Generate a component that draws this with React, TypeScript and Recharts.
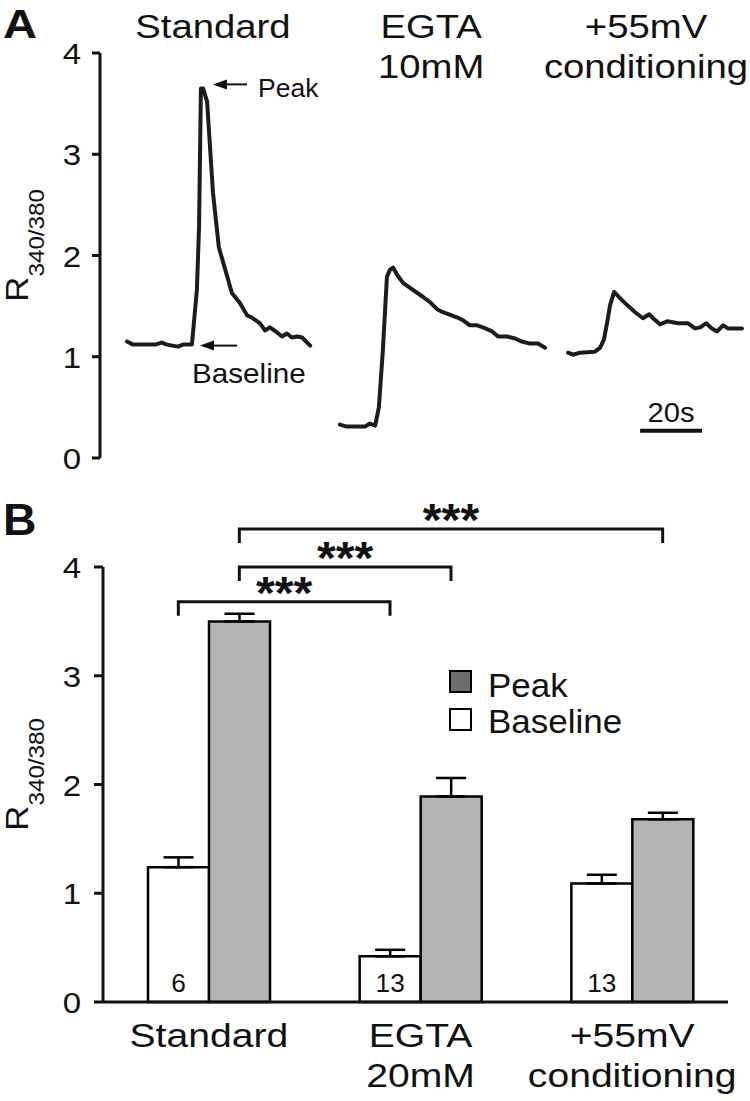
import React from 'react';
import {
  LineChart, Line, XAxis, YAxis, ReferenceLine, ReferenceDot,
  BarChart, Bar, ErrorBar, LabelList, Legend,
} from 'recharts';

const FONT = '"Liberation Sans", Arial, Helvetica, sans-serif';
const INK = '#111';

// ---------- Panel A: example traces (time in s, R340/380) ----------
const standardTime = [8.7, 10.7, 17.8, 20.0, 21.6, 25.2, 26.8, 29.7, 31.3, 32.0, 32.6, 33.3, 34.6, 36.5, 38.4, 41.4, 42.6, 45.2, 47.5, 49.4, 51.7, 53.3, 54.9, 57.2, 58.8, 60.4, 62.0, 63.7, 65.3, 67.9];
const standardRatio = [1.15, 1.12, 1.12, 1.14, 1.12, 1.10, 1.12, 1.12, 1.66, 2.28, 3.65, 3.65, 3.52, 2.62, 2.08, 1.76, 1.63, 1.53, 1.41, 1.38, 1.33, 1.26, 1.29, 1.24, 1.20, 1.23, 1.19, 1.20, 1.19, 1.11];

const egtaTime = [77.5, 79.8, 85.6, 87.2, 88.9, 90.1, 91.4, 92.7, 93.7, 94.7, 96.0, 97.9, 101.1, 104.4, 106.6, 108.9, 110.8, 115.3, 117.3, 119.5, 121.8, 123.7, 126.7, 128.6, 131.5, 134.1, 136.3, 138.9, 141.5, 143.8];
const egtaRatio = [0.33, 0.31, 0.31, 0.34, 0.32, 0.50, 1.07, 1.79, 1.86, 1.88, 1.81, 1.73, 1.66, 1.59, 1.54, 1.47, 1.44, 1.39, 1.36, 1.31, 1.31, 1.29, 1.25, 1.20, 1.20, 1.18, 1.15, 1.13, 1.13, 1.09];

const condTime = [151.2, 152.8, 155.1, 159.9, 161.6, 162.8, 163.8, 164.8, 166.1, 168.0, 170.3, 172.9, 175.4, 177.4, 178.7, 180.9, 183.2, 186.8, 190.0, 192.2, 193.9, 195.8, 197.7, 199.4, 201.3, 202.9, 207.4];
const condRatio = [1.04, 1.02, 1.04, 1.05, 1.09, 1.17, 1.33, 1.51, 1.64, 1.58, 1.51, 1.44, 1.38, 1.42, 1.38, 1.32, 1.35, 1.33, 1.33, 1.28, 1.29, 1.33, 1.28, 1.25, 1.31, 1.28, 1.28];

const traceTitles = [['Standard'], ['EGTA', '10mM'], ['+55mV', 'conditioning']];
const traceTitleTimes = [36.5, 107, 176.4];

const peakArrow = { from: 36.5, to: 47.5, level: 3.69, text: 'Peak' };
const baselineArrow = { from: 32.3, to: 44.3, level: 1.11, text: 'Baseline' };
const scaleBar = { from: 174.5, to: 194.5, level: 0.27, text: '20s' };

const ratioTicks = [0, 1, 2, 3, 4];

// ---------- Panel B: summary bars ----------
const categories = ['Standard', 'EGTA\n20mM', '+55mV\nconditioning'];
const baselineMean = [1.24, 0.42, 1.09];
const baselineSem = [0.09, 0.06, 0.08];
const peakMean = [3.50, 1.89, 1.68];
const peakSem = [0.07, 0.17, 0.06];
const nCells = [6, 13, 13];

const legendItems = ['Peak', 'Baseline'];
const legendFills = ['#6d6d6d', '#ffffff'];

const bracketFrom = [0, 0, 0];
const bracketTo = [1, 1, 2];
const bracketSeries = ['baseline', 'peak', 'peak'];
const bracketLevel = [3.68, 4.0, 4.35];
const bracketText = ['***', '***', '***'];

const BAR = 61;

const toTrace = (t: number[], r: number[]) => t.map((v, i) => ({ t: v, r: r[i] }));
const traces = [toTrace(standardTime, standardRatio), toTrace(egtaTime, egtaRatio), toTrace(condTime, condRatio)];

const barData = categories.map((c, i) => ({
  cat: c,
  baseline: baselineMean[i],
  baselineErr: [0, baselineSem[i]],
  peak: peakMean[i],
  peakErr: [0, peakSem[i]],
  n: nCells[i],
}));

function Txt({ x, y, size, anchor = 'middle', sx = 1.15, bold = false, children }: any) {
  return (
    <text
      transform={`translate(${x},${y}) scale(${sx},1)`}
      textAnchor={anchor}
      fontSize={size}
      fontFamily={FONT}
      fontWeight={bold ? 'bold' : 'normal'}
      fill={INK}
    >
      {children}
    </text>
  );
}

function RatioLabel(props: any) {
  const vb = props.viewBox || { x: 0, y: 0, width: 0, height: 0 };
  const x = vb.x + 28;
  const y = vb.y + vb.height / 2 - 10;
  return (
    <text transform={`translate(${x},${y}) rotate(-90) scale(1.1,1)`} textAnchor="middle" fontFamily={FONT} fill={INK}>
      <tspan fontSize={32}>R</tspan>
      <tspan fontSize={22} dy={16}>340/380</tspan>
    </text>
  );
}

const yTick = (dx: number) => (p: any) => (
  <Txt x={p.x + dx} y={p.y + 11} size={30} anchor="end" sx={1.1}>{p.payload.value}</Txt>
);

const arrowShape = (text: string, size: number, tx: (p: any) => number, ty: number, anchor: string) => (p: any) => {
  const { x1, y1, x2 } = p;
  return (
    <g>
      <line x1={x1 + 10} y1={y1} x2={x2} y2={y1} stroke={INK} strokeWidth={2} />
      <polygon points={`${x1},${y1} ${x1 + 14},${y1 - 5} ${x1 + 14},${y1 + 5}`} fill={INK} />
      <Txt x={tx(p)} y={y1 + ty} size={size} anchor={anchor} sx={1.06}>{text}</Txt>
    </g>
  );
};

const scaleBarShape = (p: any) => (
  <g>
    <line x1={p.x1} y1={p.y1} x2={p.x2} y2={p.y1} stroke={INK} strokeWidth={4} />
    <Txt x={(p.x1 + p.x2) / 2} y={p.y1 - 9} size={27} sx={1.08}>{scaleBar.text}</Txt>
  </g>
);

function PanelA() {
  return (
    <LineChart width={750} height={490} margin={{ top: 53, right: 0, bottom: 32, left: 0 }}>
      <XAxis type="number" dataKey="t" domain={[0, 210]} hide allowDataOverflow />
      <YAxis
        type="number"
        domain={[0, 4]}
        ticks={ratioTicks}
        interval={0}
        width={100}
        axisLine={{ stroke: INK, strokeWidth: 3 }}
        tickLine={{ stroke: INK, strokeWidth: 3 }}
        tickSize={8}
        tickMargin={0}
        tick={yTick(-11)}
        label={{ content: (p: any) => <RatioLabel {...p} /> }}
      />
      {traces.map((d, i) => (
        <Line
          key={i}
          data={d}
          dataKey="r"
          type="linear"
          stroke="#1c1c1c"
          strokeWidth={4}
          strokeLinejoin="round"
          strokeLinecap="round"
          dot={false}
          activeDot={false}
          isAnimationActive={false}
        />
      ))}
      {traceTitles.map((lines, i) => (
        <ReferenceDot
          key={'t' + i}
          x={traceTitleTimes[i]}
          y={4}
          r={0}
          ifOverflow="visible"
          shape={(p: any) => (
            <g>
              {lines.map((l, j) => (
                <Txt key={j} x={p.cx} y={p.cy - 15 + j * 40} size={33} sx={1.16}>{l}</Txt>
              ))}
            </g>
          )}
        />
      ))}
      <ReferenceLine
        segment={[{ x: peakArrow.from, y: peakArrow.level }, { x: peakArrow.to, y: peakArrow.level }]}
        ifOverflow="visible"
        shape={arrowShape(peakArrow.text, 25, (p) => p.x2 + 11, 13, 'start')}
      />
      <ReferenceLine
        segment={[{ x: baselineArrow.from, y: baselineArrow.level }, { x: baselineArrow.to, y: baselineArrow.level }]}
        ifOverflow="visible"
        shape={arrowShape(baselineArrow.text, 28, (p) => p.x1 - 8, 37, 'start')}
      />
      <ReferenceLine
        segment={[{ x: scaleBar.from, y: scaleBar.level }, { x: scaleBar.to, y: scaleBar.level }]}
        ifOverflow="visible"
        shape={scaleBarShape}
      />
    </LineChart>
  );
}

const xTick = (p: any) => {
  const lines = String(p.payload.value).split('\n');
  return (
    <g>
      {lines.map((l, i) => (
        <Txt key={i} x={p.x} y={p.y + 45 + i * 40} size={34} sx={1.15}>{l}</Txt>
      ))}
    </g>
  );
};

const nLabel = (p: any) => (
  <Txt x={p.x + p.width / 2} y={p.y + p.height - 10} size={25} sx={1.05}>{p.value}</Txt>
);

const bracketShape = (i: number) => (p: any) => {
  const off = bracketSeries[i] === 'baseline' ? -BAR / 2 : BAR / 2;
  const xa = p.x1 + off;
  const xb = p.x2 + off;
  const y = p.y1;
  return (
    <g>
      <path d={`M${xa},${y + 14} V${y} H${xb} V${y + 14}`} stroke={INK} strokeWidth={3} fill="none" />
      <Txt x={(xa + xb) / 2} y={y + 7} size={46} bold sx={1.05}>{bracketText[i]}</Txt>
    </g>
  );
};

function LegendBox() {
  return (
    <svg width={200} height={72}>
      {legendItems.map((name, i) => (
        <g key={name}>
          <rect x={3} y={3 + i * 38} width={21} height={21} fill={legendFills[i]} stroke="#000" strokeWidth={2} />
          <Txt x={41} y={29 + i * 36} size={33} anchor="start" sx={1.06}>{name}</Txt>
        </g>
      ))}
    </svg>
  );
}

function PanelB() {
  return (
    <BarChart
      width={750}
      height={631}
      data={barData}
      margin={{ top: 97, right: 22, bottom: 0, left: 0 }}
      barGap={0}
      barSize={BAR}
    >
      <XAxis
        dataKey="cat"
        type="category"
        axisLine={{ stroke: INK, strokeWidth: 3 }}
        tickLine={false}
        tickSize={0}
        tickMargin={0}
        tick={xTick}
        interval={0}
        height={99}
        padding={{ left: 0, right: -10 }}
      />
      <YAxis
        type="number"
        domain={[0, 4]}
        ticks={ratioTicks}
        interval={0}
        width={103}
        axisLine={{ stroke: INK, strokeWidth: 3 }}
        tickLine={{ stroke: INK, strokeWidth: 3 }}
        tickSize={9}
        tickMargin={0}
        tick={yTick(-13)}
        label={{ content: (p: any) => <RatioLabel {...p} /> }}
      />
      <Legend
        layout="vertical"
        align="center"
        verticalAlign="middle"
        wrapperStyle={{ left: 447, top: 198, width: 200, height: 72 }}
        content={() => <LegendBox />}
      />
      <Bar dataKey="baseline" name="Baseline" fill="#ffffff" stroke="#000" strokeWidth={2.5} isAnimationActive={false}>
        <ErrorBar dataKey="baselineErr" width={15} stroke="#000" strokeWidth={2.5} direction="y" />
        <LabelList dataKey="n" content={nLabel} />
      </Bar>
      <Bar dataKey="peak" name="Peak" fill="#b3b3b3" stroke="#000" strokeWidth={2.5} isAnimationActive={false}>
        <ErrorBar dataKey="peakErr" width={15} stroke="#000" strokeWidth={2.5} direction="y" />
      </Bar>
      {bracketLevel.map((lv, i) => (
        <ReferenceLine
          key={'b' + i}
          segment={[{ x: categories[bracketFrom[i]], y: lv }, { x: categories[bracketTo[i]], y: lv }]}
          ifOverflow="visible"
          shape={bracketShape(i)}
        />
      ))}
    </BarChart>
  );
}

export default function App() {
  return (
    <div style={{ position: 'absolute', left: 0, top: 0, width: 750, height: 1101, background: '#fff', overflow: 'hidden' }}>
      <div style={{ position: 'absolute', left: 0, top: 0 }}>
        <PanelA />
      </div>
      <div style={{ position: 'absolute', left: 0, top: 470 }}>
        <PanelB />
      </div>
      <svg width={750} height={1101} style={{ position: 'absolute', left: 0, top: 0, pointerEvents: 'none' }}>
        <Txt x={3} y={38} size={41} anchor="start" bold sx={1.15}>A</Txt>
        <Txt x={3} y={535} size={44} anchor="start" bold sx={1.05}>B</Txt>
      </svg>
    </div>
  );
}
